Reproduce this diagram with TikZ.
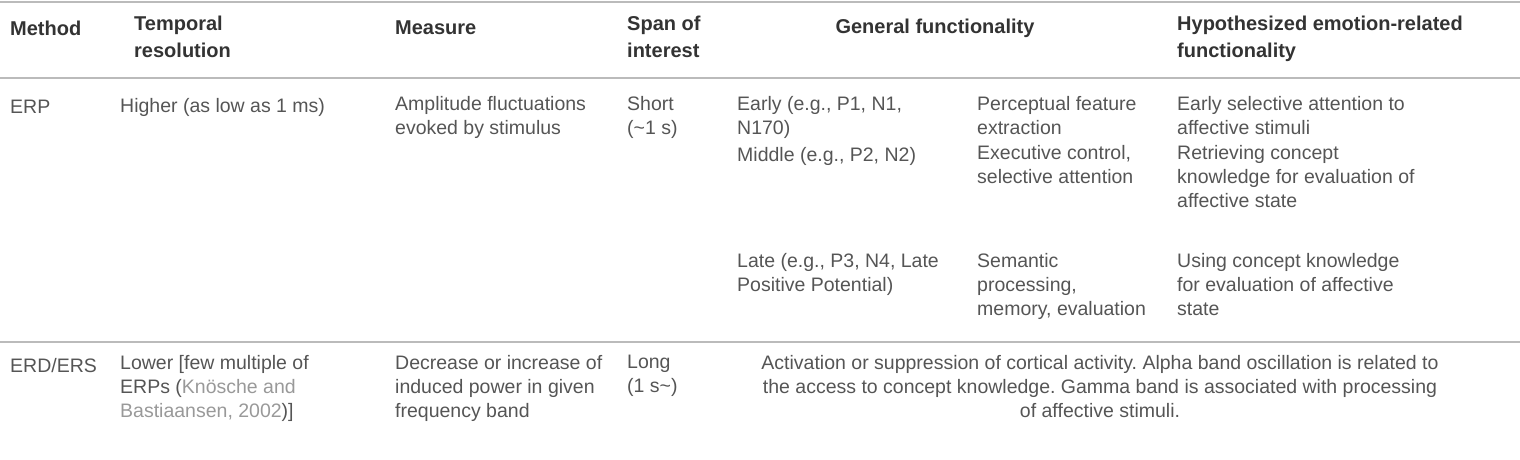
\documentclass[tikz,border=0pt]{standalone}
\usepackage{fontspec}
\setmainfont{Liberation Sans}
\definecolor{txt}{HTML}{555555}
\definecolor{hdr}{HTML}{333333}
\definecolor{rule}{HTML}{BBBBBB}
\definecolor{cite}{HTML}{999999}
\frenchspacing
\begin{document}
\begin{tikzpicture}[x=1pt,y=-1pt,
  cell/.style={anchor=west,inner sep=0pt,align=left,text=txt,font=\fontsize{19.5}{24}\selectfont},
  head/.style={cell,text=hdr,font=\fontsize{20}{27}\selectfont\bfseries},
  hline/.style={rule,line width=2.5pt}]
\useasboundingbox (0,0) rectangle (1520,459);
\coordinate (l1a) at (0,2); \coordinate (l1b) at (1520,2);
\coordinate (l2a) at (0,78); \coordinate (l2b) at (1520,78);
\coordinate (l3a) at (0,342); \coordinate (l3b) at (1520,342);
\draw[hline] (l1a) -- (l1b);
\draw[hline] (l2a) -- (l2b);
\draw[hline] (l3a) -- (l3b);
% header
\node[head] (h1) at (10,28) {Method};
\node[head,anchor=north west] (h2) at (134,16) {Temporal\\resolution};
\node[head] (h3) at (395,28) {Measure};
\node[head,anchor=north west] (h4) at (627,16) {Span of\\interest};
\node[head,anchor=center] (h5) at (935,28) {General functionality};
\node[head,anchor=north west] (h6) at (1177,16) {Hypothesized emotion-related\\functionality};
% ERP
\node[cell] (a1) at (10,107) {ERP};
\node[cell] (a2) at (120,107) {Higher (as low as 1 ms)};
\node[cell,anchor=north west] (a3) at (395,96) {Amplitude fluctuations\\evoked by stimulus};
\node[cell,anchor=north west] (a4) at (627,96) {Short\\(\textasciitilde1 s)};
\node[cell,anchor=north west] (b1) at (737,96) {Early (e.g., P1, N1,\\N170)};
\node[cell,anchor=north west] (b2) at (977,96) {Perceptual feature\\extraction};
\node[cell,anchor=north west] (b3) at (1177,96) {Early selective attention to\\affective stimuli};
\node[cell] (c1) at (737,156) {Middle (e.g., P2, N2)};
\node[cell,anchor=north west] (c2) at (977,145) {Executive control,\\selective attention};
\node[cell,anchor=north west] (c3) at (1177,145) {Retrieving concept\\knowledge for evaluation of\\affective state};
\node[cell,anchor=north west] (d1) at (737,253) {Late (e.g., P3, N4, Late\\Positive Potential)};
\node[cell,anchor=north west] (d2) at (977,253) {Semantic\\processing,\\memory, evaluation};
\node[cell,anchor=north west] (d3) at (1177,253) {Using concept knowledge\\for evaluation of affective\\state};
% ERD/ERS
\node[cell] (e1) at (10,366) {ERD/ERS};
\node[cell,anchor=north west] (e2) at (120,355) {Lower [few multiple of\\ERPs ({\color{cite}Knösche and}\\{\color{cite}Bastiaansen, 2002})]};
\node[cell,anchor=north west] (e3) at (395,355) {Decrease or increase of\\induced power in given\\frequency band};
\node[cell,anchor=north west] (e4) at (627,355) {Long\\(1 s\textasciitilde)};
\node[cell,align=center,anchor=north] (e5) at (1100,355) {Activation or suppression of cortical activity. Alpha band oscillation is related to\\the access to concept knowledge. Gamma band is associated with processing\\of affective stimuli.};
\end{tikzpicture}
\end{document}
